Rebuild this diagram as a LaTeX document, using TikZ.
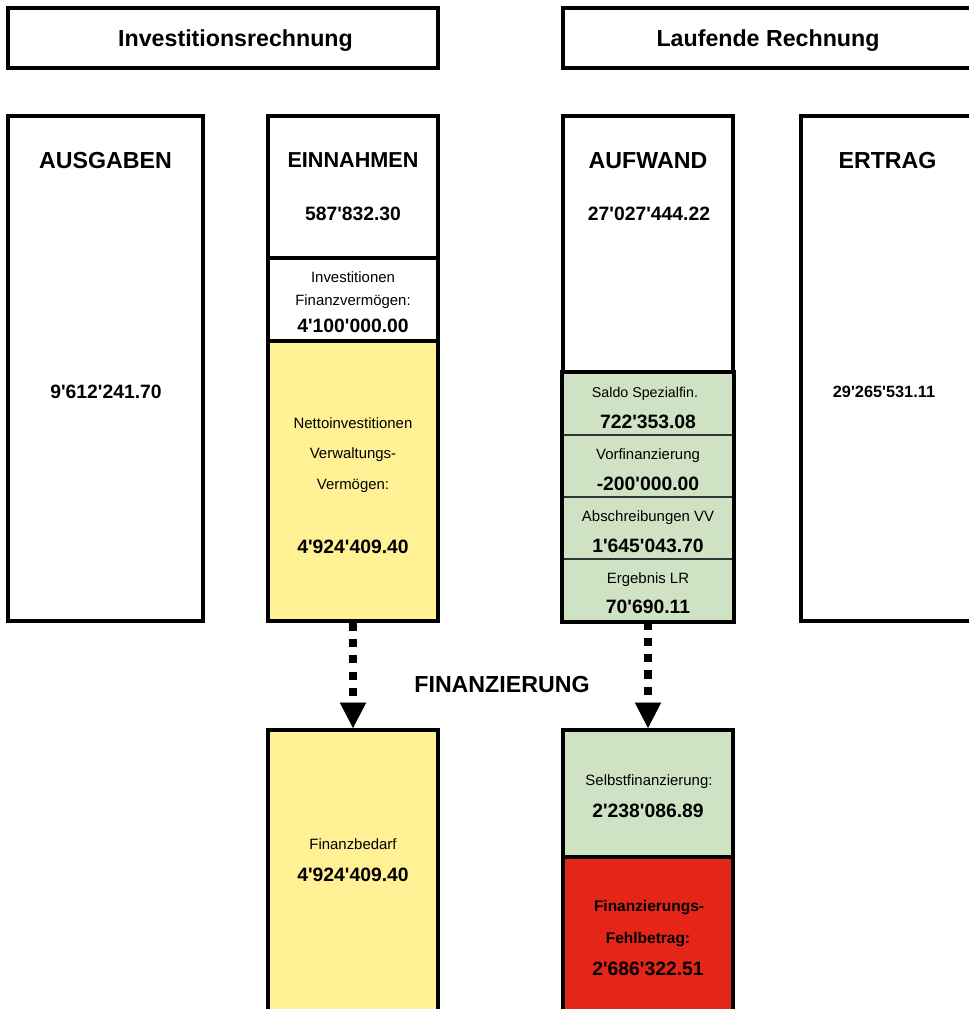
\documentclass[tikz,border=0pt]{standalone}
\usepackage{fontspec}
\newfontfamily\arial{Liberation Sans}
\usetikzlibrary{arrows.meta}

\definecolor{gelb}{RGB}{255,241,148}
\definecolor{gruen}{RGB}{207,227,196}
\definecolor{rot}{RGB}{228,37,24}

\begin{document}
\begin{tikzpicture}[
  box/.style  = {draw=black, line width=2.3pt, fill=white, inner sep=0pt},
  cell/.style = {draw=black!80, line width=1.1pt, fill=gruen, inner sep=0pt,
                 minimum width=3.4cm, minimum height=1.24cm},
  ttl/.style  = {font=\arial\fontsize{13.2}{15}\selectfont\bfseries},
  val/.style  = {font=\arial\fontsize{11}{13}\selectfont\bfseries},
  lbl/.style  = {font=\arial\fontsize{8.5}{10}\selectfont},
  blbl/.style = {font=\arial\fontsize{8.8}{10}\selectfont\bfseries},
  flow/.style = {line width=4.6pt, dash pattern=on 4.6pt off 4.6pt,
                 -{Triangle[width=15pt,length=14.5pt,line width=0.4pt]}}
]
  % 968 x 1009 px, 50 px = 1 cm
  \useasboundingbox (0,0) rectangle (19.36,-20.18);

  % Kopf
  \node[box, minimum width=8.6cm, minimum height=1.2cm] (invhead) at ( 4.46,-0.76) {};
  \node[box, minimum width=8.2cm, minimum height=1.2cm] (lrhead)  at (15.36,-0.76) {};
  \node[ttl] (tInv) at ( 4.71,-0.82) {Investitionsrechnung};
  \node[ttl] (tLr)  at (15.36,-0.82) {Laufende Rechnung};

  % Investitionsrechnung
  \node[box, minimum width=3.9cm, minimum height=10.1cm] (ausgaben)  at ( 2.11,-7.37) {};
  \node[box, minimum width=3.4cm, minimum height=2.84cm] (einnahmen) at ( 7.06,-3.74) {};
  \node[box, minimum width=3.4cm, minimum height=1.66cm] (invfv)     at ( 7.06,-5.99) {};
  \node[box, fill=gelb, minimum width=3.4cm, minimum height=5.6cm] (nettoinv) at (7.06,-9.62) {};

  % Laufende Rechnung
  \node[box, minimum width=3.4cm, minimum height=5.14cm] (aufwand) at (12.96,-4.89) {};
  \node[cell] (saldo)    at (12.96, -8.08) {};
  \node[cell] (vorfin)   at (12.96, -9.32) {};
  \node[cell] (abschr)   at (12.96,-10.56) {};
  \node[cell] (ergebnis) at (12.96,-11.80) {};
  \draw[line width=2.3pt] (saldo.north west) rectangle (ergebnis.south east);
  \node[box, minimum width=3.46cm, minimum height=10.1cm] (ertrag) at (17.75,-7.37) {};

  % Finanzierung
  \node[box, fill=gelb,   minimum width=3.4cm, minimum height=6.2cm]  (bedarf) at ( 7.06,-17.70) {};
  \node[box, fill=gruen,  minimum width=3.4cm, minimum height=2.54cm] (selbst) at (12.96,-15.87) {};
  \node[box, fill=rot,    minimum width=3.4cm, minimum height=3.66cm] (fehl)   at (12.96,-18.97) {};

  \draw[flow] (nettoinv.south) -- (bedarf.north);
  \draw[flow] (ergebnis.south) -- (selbst.north);

  % Texte
  \node[ttl] (tAus) at ( 2.11,-3.21) {AUSGABEN};
  \node[val] (vAus) at ( 2.12,-7.84) {9'612'241.70};
  \node[ttl, font=\arial\fontsize{12.3}{14}\selectfont\bfseries] (tEin) at ( 7.06,-3.21) {EINNAHMEN};
  \node[val] (vEin) at ( 7.06,-4.27) {587'832.30};

  \node[lbl] (tFv1) at ( 7.06,-5.55) {Investitionen};
  \node[lbl] (tFv2) at ( 7.06,-6.03) {Finanzvermögen:};
  \node[val] (vFv)  at ( 7.06,-6.51) {4'100'000.00};

  \node[lbl] (tNi1) at ( 7.06,-8.47) {Nettoinvestitionen};
  \node[lbl] (tNi2) at ( 7.06,-9.09) {Verwaltungs-};
  \node[lbl] (tNi3) at ( 7.06,-9.71) {Vermögen:};
  \node[val] (vNi)  at ( 7.06,-10.93) {4'924'409.40};

  \node[ttl] (tAuf) at (12.96,-3.21) {AUFWAND};
  \node[val] (vAuf) at (12.98,-4.27) {27'027'444.22};
  \node[ttl] (tErt) at (17.75,-3.21) {ERTRAG};
  \node[val, font=\arial\fontsize{9.3}{11}\selectfont\bfseries] (vErt) at (17.68,-7.84) {29'265'531.11};

  \node[lbl, font=\arial\fontsize{8.1}{10}\selectfont] (tSal) at (12.90,-7.87) {Saldo Spezialfin.};
  \node[val] (vSal) at (12.96,-8.44) {722'353.08};
  \node[lbl] (tVor) at (12.96,-9.11) {Vorfinanzierung};
  \node[val] (vVor) at (12.96,-9.68) {-200'000.00};
  \node[lbl] (tAbs) at (12.96,-10.35) {Abschreibungen VV};
  \node[val] (vAbs) at (12.96,-10.92) {1'645'043.70};
  \node[lbl] (tErg) at (12.96,-11.59) {Ergebnis LR};
  \node[val] (vErg) at (12.96,-12.14) {70'690.11};

  \node[ttl] (tFin) at (10.04,-13.70) {FINANZIERUNG};

  \node[lbl] (tBed) at ( 7.06,-16.88) {Finanzbedarf};
  \node[val] (vBed) at ( 7.06,-17.50) {4'924'409.40};
  \node[lbl] (tSel) at (12.98,-15.64) {Selbstfinanzierung:};
  \node[val] (vSel) at (12.96,-16.22) {2'238'086.89};
  \node[blbl] (tFe1) at (12.98,-18.16) {Finanzierungs-};
  \node[blbl] (tFe2) at (12.96,-18.80) {Fehlbetrag:};
  \node[val]  (vFe)  at (12.96,-19.38) {2'686'322.51};

\end{tikzpicture}
\end{document}
